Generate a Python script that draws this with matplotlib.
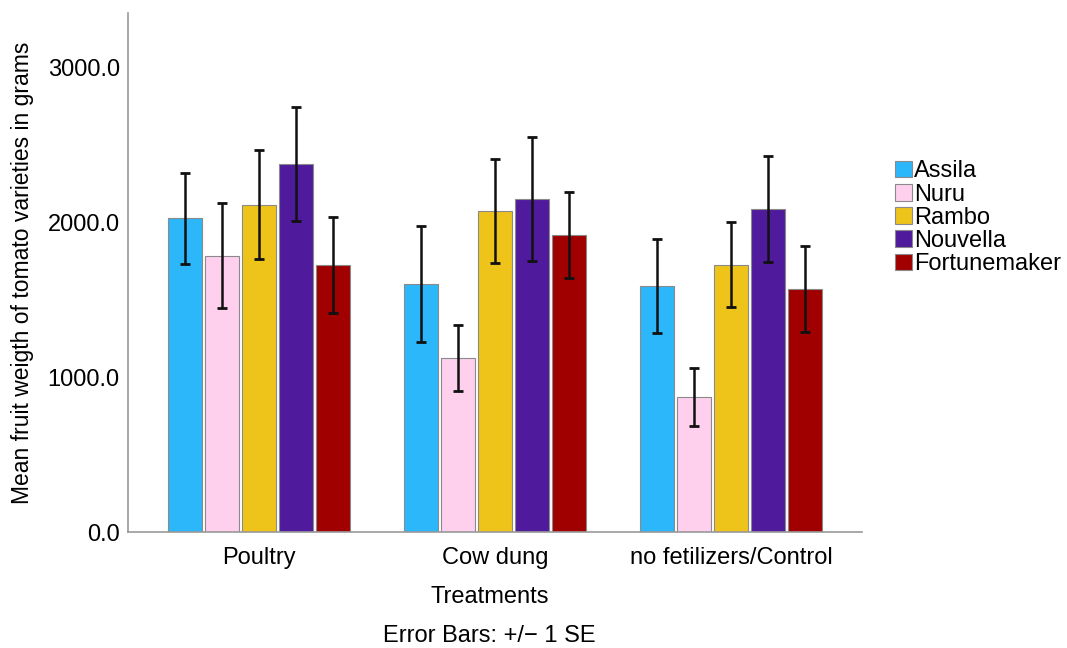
import matplotlib
matplotlib.use("Agg")
import matplotlib.pyplot as plt
import numpy as np
from matplotlib.ticker import FuncFormatter

plt.rcParams['font.family'] = ['Liberation Sans', 'DejaVu Sans']

treatments = ["Poultry", "Cow dung", "no fetilizers/Control"]
varieties = ["Assila", "Nuru", "Rambo", "Nouvella", "Fortunemaker"]
colors = ["#2DB7FB", "#FFD0EE", "#EEC41B", "#4F1A9B", "#A10000"]

assila = [2028, 1604, 1589]
nuru = [1787, 1125, 873]
rambo = [2116, 2075, 1729]
nouvella = [2379, 2153, 2090]
fortunemaker = [1727, 1920, 1572]

assila_se = [293, 373, 302]
nuru_se = [337, 214, 189]
rambo_se = [350, 339, 274]
nouvella_se = [371, 403, 343]
fortunemaker_se = [309, 280, 278]

means = [assila, nuru, rambo, nouvella, fortunemaker]
ses = [assila_se, nuru_se, rambo_se, nouvella_se, fortunemaker_se]

FS = 17

fig = plt.figure(figsize=(10.67, 6.48), dpi=100)
ax = fig.add_axes([0.12, 0.179, 0.688, 0.801])

x = np.arange(len(treatments))
slot = 0.157
width = 0.144
for i, (name, m, s, c) in enumerate(zip(varieties, means, ses, colors)):
    pos = x + (i - 2) * slot
    ax.bar(pos, m, width=width, color=c, edgecolor="#8a8a8a", linewidth=0.8, label=name, zorder=2)
    ax.errorbar(pos, m, yerr=s, fmt='none', ecolor='#111111', elinewidth=1.8,
                capsize=3.3, capthick=2.0, zorder=3)

ax.set_xlim(-0.555, 2.555)
ax.set_ylim(0, 3355)
ax.set_yticks([0, 1000, 2000, 3000])
ax.yaxis.set_major_formatter(FuncFormatter(lambda v, p: f"{v:.1f}"))
ax.set_xticks(x)
ax.set_xticklabels(treatments)
ax.tick_params(axis='both', length=0, labelsize=FS, colors='#000000')
ax.tick_params(axis='y', pad=6)
ax.tick_params(axis='x', pad=11)
for side in ['top', 'right']:
    ax.spines[side].set_visible(False)
for side in ['left', 'bottom']:
    ax.spines[side].set_color('#999999')
    ax.spines[side].set_linewidth(1.2)

ax.set_ylabel("Mean fruit weigth of tomato varieties in grams", fontsize=16.5, labelpad=10)
fig.text(0.459, 0.078, "Treatments", ha='center', va='center', fontsize=FS)
fig.text(0.459, 0.018, "Error Bars: +/\u2212 1 SE", ha='center', va='center', fontsize=FS)

fig.legend(loc='center left', bbox_to_anchor=(0.828, 0.664), frameon=False,
           fontsize=FS, handlelength=0.7, handleheight=0.7, handletextpad=0.1,
           labelspacing=0.05, borderpad=0)

fig.savefig("out.png", dpi=100)
